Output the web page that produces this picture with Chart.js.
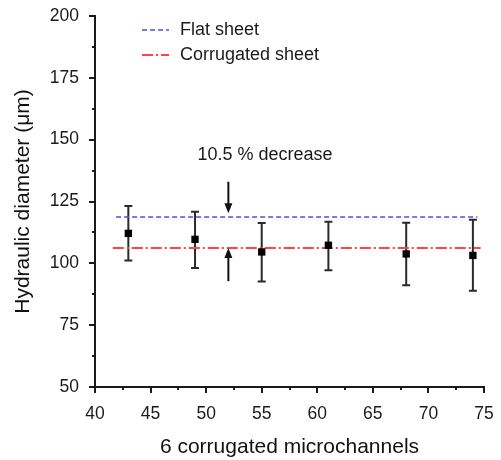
<!DOCTYPE html>
<html>
<head>
<meta charset="utf-8">
<script src="https://cdn.jsdelivr.net/npm/chart.js@4.4.1/dist/chart.umd.min.js"></script>
<style>
  html, body { margin: 0; padding: 0; background: #fff; }
  #wrap { width: 501px; height: 460px; }
</style>
</head>
<body>
<div id="wrap"><canvas id="dh-chart"></canvas></div>
<script>
// channel positions and measured hydraulic diameters (um)
const channelX = [43, 49, 55, 61, 68, 74];
const diameter = [112.1, 109.7, 104.6, 107.3, 103.8, 103.2];
const diameterLow = [101.1, 98.1, 92.7, 97.2, 91.1, 88.9];
const diameterHigh = [123.2, 120.9, 116.3, 116.8, 116.4, 117.6];

// reference levels for the two sheets
const flatSheetX = [41.9, 74.4];
const flatSheetY = 118.7;
const corrSheetX = [41.6, 74.7];
const corrSheetY = 106.2;

// arrows marking the gap between the two levels
const arrowX = 52;
const arrowDown = [133, 120.2];
const arrowUp = [92.8, 106.2];
const noteText = '10.5 % decrease';
const notePos = [55.3, 143.8];

const xTicks = [40, 45, 50, 55, 60, 65, 70, 75];
const yTicks = [50, 75, 100, 125, 150, 175, 200];

const FONT = "'Liberation Sans', Arial, sans-serif";
const INK = '#1a1a1a';

Chart.defaults.font.family = FONT;
Chart.defaults.color = INK;

const errorBars = {
    id: 'errorBars',
    beforeDatasetsDraw(chart) {
        const {ctx, scales: {x, y}} = chart;
        ctx.save();
        ctx.strokeStyle = '#2a2a2a';
        ctx.lineWidth = 2;
        channelX.forEach((cx, i) => {
            const px = x.getPixelForValue(cx);
            const top = y.getPixelForValue(diameterHigh[i]);
            const bot = y.getPixelForValue(diameterLow[i]);
            ctx.beginPath();
            ctx.moveTo(px, top);
            ctx.lineTo(px, bot);
            ctx.moveTo(px - 4, top);
            ctx.lineTo(px + 4, top);
            ctx.moveTo(px - 4, bot);
            ctx.lineTo(px + 4, bot);
            ctx.stroke();
        });
        ctx.restore();
    }
};

// major and minor tick marks on both axes, pointing outward
const axisTicks = {
    id: 'axisTicks',
    afterDraw(chart) {
        const {ctx, chartArea, scales: {x, y}} = chart;
        ctx.save();
        ctx.strokeStyle = INK;
        ctx.lineWidth = 2;
        ctx.beginPath();
        for (let v = x.min; v <= x.max + 0.01; v += 2.5) {
            const px = Math.round(x.getPixelForValue(v));
            const len = (v % 5 === 0) ? 6 : 3;
            ctx.moveTo(px, chartArea.bottom);
            ctx.lineTo(px, chartArea.bottom + len);
        }
        for (let v = y.min; v <= y.max + 0.01; v += 12.5) {
            const py = Math.round(y.getPixelForValue(v));
            const len = (v % 25 === 0) ? 6 : 3;
            ctx.moveTo(chartArea.left, py);
            ctx.lineTo(chartArea.left - len, py);
        }
        ctx.stroke();
        ctx.restore();
    }
};

function drawArrow(ctx, px, fromY, toY) {
    const dir = toY > fromY ? 1 : -1;
    ctx.beginPath();
    ctx.moveTo(px, fromY);
    ctx.lineTo(px, toY - dir * 8);
    ctx.stroke();
    ctx.beginPath();
    ctx.moveTo(px, toY);
    ctx.lineTo(px - 4, toY - dir * 10);
    ctx.lineTo(px + 4, toY - dir * 10);
    ctx.closePath();
    ctx.fill();
}

const gapNote = {
    id: 'gapNote',
    afterDatasetsDraw(chart) {
        const {ctx, scales: {x, y}} = chart;
        const px = x.getPixelForValue(arrowX);
        ctx.save();
        ctx.strokeStyle = '#111';
        ctx.fillStyle = '#111';
        ctx.lineWidth = 2;
        drawArrow(ctx, px, y.getPixelForValue(arrowDown[0]), y.getPixelForValue(arrowDown[1]));
        drawArrow(ctx, px, y.getPixelForValue(arrowUp[0]), y.getPixelForValue(arrowUp[1]));
        ctx.font = '18px ' + FONT;
        ctx.textAlign = 'center';
        ctx.textBaseline = 'middle';
        ctx.fillStyle = INK;
        ctx.fillText(noteText, x.getPixelForValue(notePos[0]), y.getPixelForValue(notePos[1]));
        ctx.restore();
    }
};

// small legend in the upper left of the plot
const sheetLegend = {
    id: 'sheetLegend',
    afterDraw(chart) {
        const {ctx} = chart;
        ctx.save();
        [1, 2].forEach((di, row) => {
            const ds = chart.data.datasets[di];
            const yy = 30 + row * 25;
            ctx.strokeStyle = ds.borderColor;
            ctx.lineWidth = ds.borderWidth;
            ctx.setLineDash(ds.borderDash);
            ctx.beginPath();
            ctx.moveTo(142, yy);
            ctx.lineTo(169, yy);
            ctx.stroke();
            ctx.setLineDash([]);
            ctx.font = '18px ' + FONT;
            ctx.fillStyle = INK;
            ctx.textAlign = 'left';
            ctx.textBaseline = 'middle';
            ctx.fillText(ds.label, 180, yy);
        });
        ctx.restore();
    }
};

new Chart(document.getElementById('dh-chart'), {
    type: 'scatter',
    data: {
        datasets: [{
            label: 'Corrugated microchannels',
            data: channelX.map((cx, i) => ({x: cx, y: diameter[i]})),
            pointStyle: 'rect',
            pointRadius: 5.2,
            backgroundColor: '#000',
            borderColor: '#000',
            borderWidth: 0
        }, {
            label: 'Flat sheet',
            data: flatSheetX.map(v => ({x: v, y: flatSheetY})),
            showLine: true,
            pointRadius: 0,
            borderColor: '#4f4fe0',
            borderWidth: 1.5,
            borderDash: [5, 3]
        }, {
            label: 'Corrugated sheet',
            data: corrSheetX.map(v => ({x: v, y: corrSheetY})),
            showLine: true,
            pointRadius: 0,
            borderColor: '#ff4444',
            borderWidth: 2,
            borderDash: [11, 3, 2, 3]
        }]
    },
    options: {
        responsive: true,
        maintainAspectRatio: false,
        animation: false,
        layout: {
            padding: {left: 0, right: 17, top: 16, bottom: 0}
        },
        plugins: {
            legend: {display: false},
            tooltip: {enabled: false}
        },
        scales: {
            x: {
                type: 'linear',
                min: 40,
                max: 75,
                afterBuildTicks: s => { s.ticks = xTicks.map(v => ({value: v})); },
                grid: {display: false, drawTicks: false},
                border: {display: true, color: INK, width: 2},
                ticks: {color: INK, font: {size: 17.5}, padding: 17, maxRotation: 0},
                title: {
                    display: true,
                    text: '6 corrugated microchannels',
                    color: '#111',
                    font: {size: 21},
                    padding: {top: 0, bottom: 0}
                },
                afterFit: s => {
                    s.height = 73;
                    s.paddingLeft = 0;
                    s.paddingRight = 0;
                }
            },
            y: {
                type: 'linear',
                min: 50,
                max: 200,
                afterBuildTicks: s => { s.ticks = yTicks.map(v => ({value: v})); },
                grid: {display: false, drawTicks: false},
                border: {display: true, color: INK, width: 2},
                ticks: {color: INK, font: {size: 17.5}, padding: 16},
                title: {
                    display: true,
                    text: 'Hydraulic diameter (μm)',
                    color: '#111',
                    font: {size: 21},
                    padding: {top: 11, bottom: 0}
                },
                afterFit: s => {
                    s.width = 95;
                    s.paddingTop = 0;
                    s.paddingBottom = 0;
                }
            }
        }
    },
    plugins: [errorBars, gapNote, axisTicks, sheetLegend]
});
</script>
</body>
</html>
